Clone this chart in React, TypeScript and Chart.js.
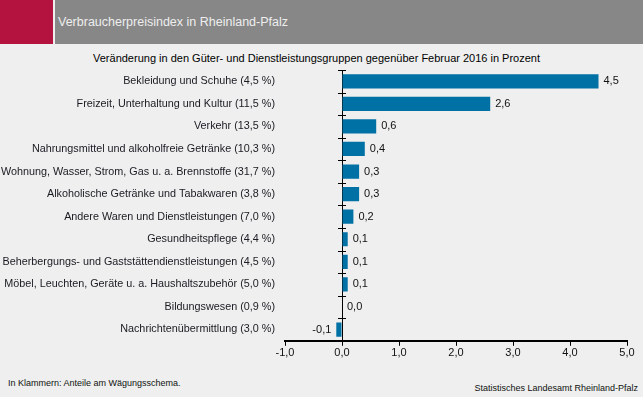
import React, { useEffect, useRef } from "react";
import { Chart, registerables } from "chart.js";

Chart.register(...registerables);

const categories = [
  "Bekleidung und Schuhe (4,5 %)",
  "Freizeit, Unterhaltung und Kultur (11,5 %)",
  "Verkehr (13,5 %)",
  "Nahrungsmittel und alkoholfreie Getränke (10,3 %)",
  "Wohnung, Wasser, Strom, Gas u. a. Brennstoffe (31,7 %)",
  "Alkoholische Getränke und Tabakwaren (3,8 %)",
  "Andere Waren und Dienstleistungen (7,0 %)",
  "Gesundheitspflege (4,4 %)",
  "Beherbergungs- und Gaststättendienstleistungen (4,5 %)",
  "Möbel, Leuchten, Geräte u. a. Haushaltszubehör (5,0 %)",
  "Bildungswesen (0,9 %)",
  "Nachrichtenübermittlung (3,0 %)",
];

const values = [4.5, 2.6, 0.6, 0.4, 0.3, 0.3, 0.2, 0.1, 0.1, 0.1, 0.0, -0.1];

const titleText = "Verbraucherpreisindex in Rheinland-Pfalz";
const subtitleText =
  "Veränderung in den Güter- und Dienstleistungsgruppen gegenüber Februar 2016 in Prozent";
const noteText = "In Klammern: Anteile am Wägungsschema.";
const sourceText = "Statistisches Landesamt Rheinland-Pfalz";

const FONT = "'Liberation Sans', Arial, sans-serif";
const fmt = (v: number) => v.toFixed(1).replace(".", ",");

const zeroTicksPlugin = {
  id: "zeroTicks",
  afterDatasetsDraw(chart: any) {
    const { ctx, chartArea, scales } = chart;
    const x0 = scales.x.getPixelForValue(0);
    const n = categories.length;
    const step = (chartArea.bottom - chartArea.top) / n;
    ctx.save();
    ctx.strokeStyle = "#000";
    ctx.lineWidth = 1;
    for (let i = 0; i < n; i++) {
      const y = Math.round(chartArea.top + i * step) + 0.5;
      ctx.beginPath();
      ctx.moveTo(x0 - 4, y);
      ctx.lineTo(x0 + 4, y);
      ctx.stroke();
    }
    const meta = chart.getDatasetMeta(0);
    ctx.font = `11px ${FONT}`;
    ctx.fillStyle = "#111";
    ctx.textBaseline = "middle";
    meta.data.forEach((bar: any, i: number) => {
      const v = values[i];
      if (v >= 0) {
        ctx.textAlign = "left";
        ctx.fillText(fmt(v), bar.x + 5, bar.y);
      } else {
        ctx.textAlign = "right";
        ctx.fillText(fmt(v), bar.x - 5, bar.y);
      }
    });
    ctx.restore();
  },
};

export default function App() {
  const ref = useRef<HTMLCanvasElement>(null);

  useEffect(() => {
    document.body.style.margin = "0";
    const chart = new Chart(ref.current!, {
      type: "bar",
      data: {
        labels: categories,
        datasets: [
          {
            data: values,
            backgroundColor: "#0071a4",
            borderWidth: 0,
            categoryPercentage: 1,
            barPercentage: 0.63,
          },
        ],
      },
      options: {
        indexAxis: "y",
        animation: false,
        responsive: false,
        maintainAspectRatio: false,
        layout: { padding: { top: 8, right: 16, bottom: 0, left: 0 } },
        plugins: {
          legend: { display: false },
          tooltip: { enabled: false },
        },
        scales: {
          x: {
            min: -1,
            max: 5,
            ticks: {
              stepSize: 1,
              color: "#111",
              padding: 1,
              font: { family: FONT, size: 11 },
              callback: (v: any) => fmt(Number(v)),
            },
            grid: {
              color: (c: any) =>
                c.tick && c.tick.value === 0 ? "#000" : "rgba(0,0,0,0)",
              tickColor: "#000",
              tickLength: 5,
              lineWidth: 1,
            },
            border: { display: true, color: "#000", width: 2 },
          },
          y: {
            grid: { display: false, drawTicks: false },
            border: { display: false },
            ticks: {
              color: "#1a1a22",
              padding: 10,
              autoSkip: false,
              font: { family: FONT, size: 10.8 },
            },
            afterFit: (s: any) => {
              s.width = 285;
              s.paddingTop = 0;
              s.paddingBottom = 0;
            },
          },
        },
      },
      plugins: [zeroTicksPlugin],
    });
    return () => chart.destroy();
  }, []);

  return (
    <div
      style={{
        position: "relative",
        width: 643,
        height: 397,
        background: "#eeefee",
        fontFamily: FONT,
        overflow: "hidden",
      }}
    >
      <div
        style={{
          position: "absolute",
          left: 0,
          top: 0,
          width: 53,
          height: 44,
          background: "#b5133f",
        }}
      />
      <div
        style={{
          position: "absolute",
          left: 55,
          top: 0,
          width: 588,
          height: 44,
          background: "#878787",
        }}
      />
      <div
        style={{
          position: "absolute",
          left: 58,
          top: 15,
          fontSize: 12.5,
          color: "#eeeeee",
          whiteSpace: "nowrap",
        }}
      >
        {titleText}
      </div>
      <div
        style={{
          position: "absolute",
          left: 93,
          top: 52,
          fontSize: 11,
          color: "#000",
          whiteSpace: "nowrap",
        }}
      >
        {subtitleText}
      </div>
      <canvas
        ref={ref}
        width={643}
        height={299}
        style={{ position: "absolute", left: 0, top: 62, width: 643, height: 299 }}
      />
      <div
        style={{
          position: "absolute",
          left: 8,
          top: 378,
          fontSize: 9,
          color: "#111",
          whiteSpace: "nowrap",
        }}
      >
        {noteText}
      </div>
      <div
        style={{
          position: "absolute",
          right: 5,
          top: 383,
          fontSize: 9,
          color: "#111",
          whiteSpace: "nowrap",
        }}
      >
        {sourceText}
      </div>
    </div>
  );
}
